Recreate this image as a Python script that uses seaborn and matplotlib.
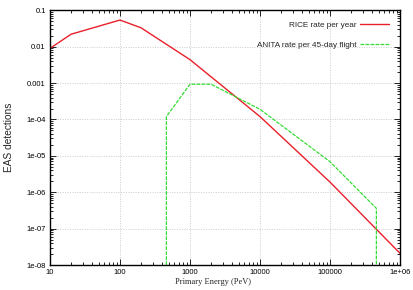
import numpy as np
import pandas as pd
import matplotlib
matplotlib.use("Agg")
import matplotlib.pyplot as plt
import seaborn as sns
from matplotlib.ticker import LogLocator, NullFormatter

# Data
rice_energy = [10, 20, 100, 200, 1000, 10000, 100000, 1000000]
rice_rate = [0.009, 0.022, 0.054, 0.033, 0.0044, 1.2e-4, 1.9e-6, 2.1e-8]

anita_energy = [460, 460, 1000, 2000, 10000, 100000, 460000, 460000]
anita_rate = [1e-8, 1.2e-4, 9.3e-4, 9.3e-4, 1.9e-4, 6.9e-6, 3.6e-7, 1e-8]

x_ticks = [10, 100, 1000, 10000, 100000, 1000000]
x_labels = ["10", "100", "1000", "10000", "100000", "1e+06"]
y_ticks = [1e-8, 1e-7, 1e-6, 1e-5, 1e-4, 1e-3, 1e-2, 1e-1]
y_labels = ["1e-08", "1e-07", "1e-06", "1e-05", "1e-04", "0.001", "0.01", "0.1"]

rice_label = "RICE rate per year"
anita_label = "ANITA rate per 45-day flight"

sns.set_theme(style="ticks")
plt.rcParams['font.family'] = ['Liberation Sans', 'DejaVu Sans']

fig = plt.figure(figsize=(4.14, 2.90), dpi=100)
ax = fig.add_axes([50/414, 25/290, 350/414, 254.7/290])

rice_df = pd.DataFrame({"energy": rice_energy, "rate": rice_rate})
anita_df = pd.DataFrame({"energy": anita_energy, "rate": anita_rate})

sns.lineplot(data=rice_df, x="energy", y="rate", ax=ax, sort=False, estimator=None,
             color="#e8202a", linewidth=1.0, label=rice_label)
sns.lineplot(data=anita_df, x="energy", y="rate", ax=ax, sort=False, estimator=None,
             color="#33dd33", linewidth=0.9, dashes=False, label=anita_label)
ax.lines[1].set_dashes([3, 1])

ax.set_xscale("log")
ax.set_yscale("log")
ax.set_xlim(10, 1e6)
ax.set_ylim(1e-8, 0.1)

ax.set_xticks(x_ticks)
ax.set_xticklabels(x_labels)
ax.set_yticks(y_ticks)
ax.set_yticklabels(y_labels)
ax.xaxis.set_minor_locator(LogLocator(base=10, subs=np.arange(2, 10), numticks=20))
ax.yaxis.set_minor_locator(LogLocator(base=10, subs=np.arange(2, 10), numticks=20))
ax.xaxis.set_minor_formatter(NullFormatter())
ax.yaxis.set_minor_formatter(NullFormatter())

ax.tick_params(which="both", direction="in", top=True, right=True, labelsize=5.5,
               width=0.6, colors="black")
ax.tick_params(which="major", length=4, pad=3)
ax.tick_params(which="minor", length=2)

ax.grid(True, which="major", color="#bbbbbb", linestyle=(0, (1.5, 2)), linewidth=0.5)

for s in ax.spines.values():
    s.set_linewidth(1.0)
    s.set_color("black")

ax.set_xlabel("Primary Energy (PeV)", family=["Liberation Serif", "DejaVu Serif"],
              fontsize=6)
ax.xaxis.set_label_coords((213 - 50) / 350, -13 / 254.7)
ax.set_ylabel("EAS detections", fontsize=7.3)
ax.yaxis.set_label_coords(-(50 - 14) / 350, 0.5)

leg = ax.legend(loc="upper right", frameon=False, fontsize=5.9, markerfirst=False,
                handlelength=3.6, handletextpad=0.4, labelspacing=1.55,
                borderaxespad=0.9)

fig.savefig("out.png", dpi=100)
